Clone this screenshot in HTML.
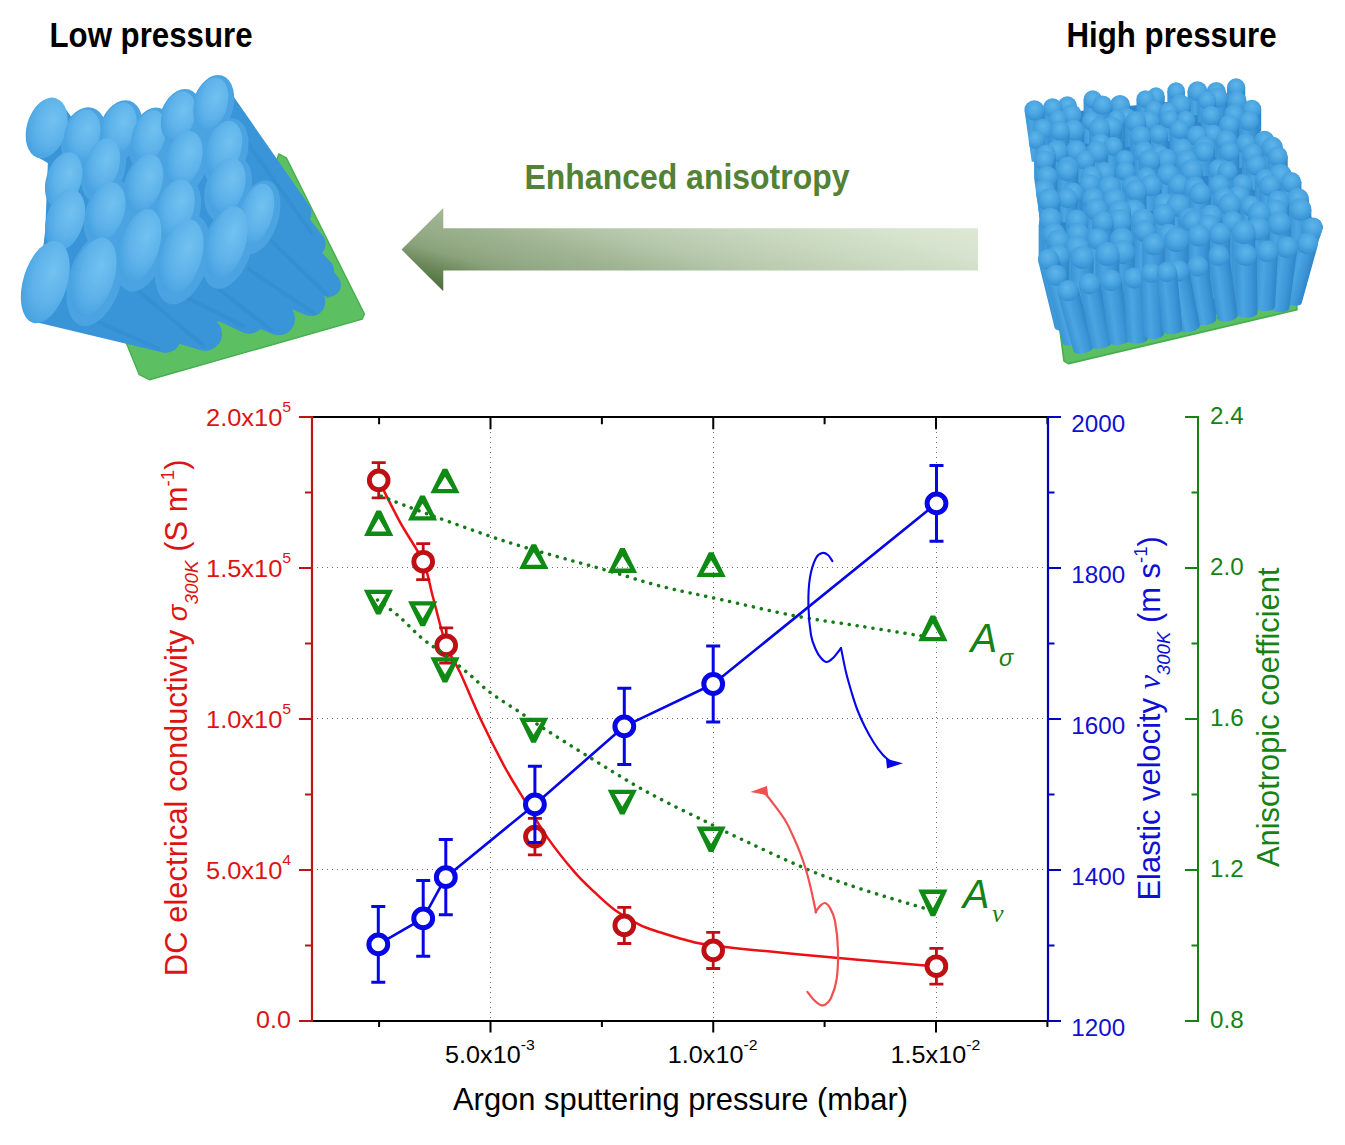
<!DOCTYPE html>
<html lang="en">
<head>
<meta charset="utf-8">
<title>Enhanced anisotropy - sputtering pressure</title>
<style>
html,body{margin:0;padding:0;background:#fff;}
body{width:1345px;height:1145px;overflow:hidden;}
svg{display:block;}
text{font-family:'Liberation Sans', sans-serif;}
</style>
</head>
<body>
<svg width="1345" height="1145" viewBox="0 0 1345 1145">
<defs>
<linearGradient id="ga" x1="0" y1="1" x2="1.2" y2="0.4"><stop offset="0" stop-color="#3e6129"/><stop offset="0.0467" stop-color="#4b6c37"/><stop offset="0.133" stop-color="#6c885b"/><stop offset="0.2" stop-color="#8aa27b"/><stop offset="0.267" stop-color="#96ac88"/><stop offset="0.333" stop-color="#9db290"/><stop offset="0.4" stop-color="#a8bc9c"/><stop offset="0.467" stop-color="#b4c6a9"/><stop offset="0.567" stop-color="#c0d0b6"/><stop offset="0.667" stop-color="#cad9c1"/><stop offset="0.8" stop-color="#d6e3ce"/><stop offset="0.933" stop-color="#dde9d5"/><stop offset="1" stop-color="#e0ebd8"/></linearGradient>
<radialGradient id="ge" cx="0.6" cy="0.35" r="0.75"><stop offset="0" stop-color="#72c2f0"/><stop offset="0.55" stop-color="#5db2ea"/><stop offset="0.85" stop-color="#4aa4e2"/><stop offset="1" stop-color="#3e99db"/></radialGradient>
<radialGradient id="gs" cx="0.5" cy="0.36" r="0.66"><stop offset="0" stop-color="#5fb5ea"/><stop offset="0.5" stop-color="#4ba5e1"/><stop offset="0.85" stop-color="#3a95d6"/><stop offset="1" stop-color="#2f88cb"/></radialGradient>
<linearGradient id="gc" x1="0" y1="0" x2="1" y2="0"><stop offset="0" stop-color="#3a93d4"/><stop offset="0.35" stop-color="#4aa5e2"/><stop offset="0.7" stop-color="#3d97d8"/><stop offset="1" stop-color="#2f86c8"/></linearGradient>
<linearGradient id="gbody" x1="0" y1="0" x2="1" y2="1"><stop offset="0" stop-color="#3f9bdc"/><stop offset="1" stop-color="#3590d2"/></linearGradient>
<filter id="soft" x="-10%" y="-10%" width="120%" height="120%"><feGaussianBlur stdDeviation="0.7"/></filter>
</defs>
<text x="49.5" y="46.6" font-weight="bold" font-size="34.4" fill="#000" textLength="203" lengthAdjust="spacingAndGlyphs">Low pressure</text>
<text x="1066.5" y="46.6" font-weight="bold" font-size="34.4" fill="#000" textLength="210" lengthAdjust="spacingAndGlyphs">High pressure</text>
<text x="524.5" y="189" font-weight="bold" font-size="35" fill="#548235" textLength="325" lengthAdjust="spacingAndGlyphs">Enhanced anisotropy</text>
<path d="M401.5 249.6L443.3 208V228.2H978V270.4H443.3V291.2Z" fill="url(#ga)"/>
<g id="lowp">
<path d="M278.72 153.94 L286.36 157.91 L364.46 314.1 L362.2 319.2 L149.41 379.75 L139.22 374.66 L121.68 331.65 L254.67 229.78 Z" fill="#5cc063" stroke="#46ae4e" stroke-width="1.3" stroke-linejoin="round"/>
<g fill="#3995d7">
<path d="M48.1 156.21 L210.81 91.13 L297.11 214.22 L329.65 284.96 L165.53 338.72 L36.79 303.35 L45.27 229.78 Z"/>
<path d="M26.4 132.5L27.1 127.4L28.3 122.3L30.1 117.4L32.4 112.8L35.2 108.6L38.3 105L41.6 102.2L45.1 100.1L48.7 98.9L52.2 98.5L55.5 99L58.6 100.5L61.3 102.7L63.5 105.7L104.8 164.9L106.8 168.8L107.5 173.2L106.8 177.6L104.8 181.5L101.7 184.6L97.8 186.6L93.4 187.3L89 186.6L85.1 184.6L34.8 155.4L32.1 153.1L29.9 150.1L28.1 146.4L26.9 142.2L26.4 137.5Z"/>
<path d="M64.2 138.6L64.8 134.3L65.8 130L67.3 125.9L69.3 122.1L71.7 118.6L74.3 115.7L77.3 113.3L80.3 111.6L83.4 110.6L86.5 110.3L89.4 110.8L92.2 112.1L94.6 114L96.6 116.6L158.6 198.8L160.6 202.8L161.3 207.1L160.6 211.5L158.6 215.5L155.5 218.6L151.5 220.6L147.1 221.3L142.8 220.6L138.8 218.6L69.6 156L67.5 153.4L65.9 150.3L64.8 146.7L64.3 142.8Z"/>
<path d="M101.5 131.6L102.1 127.4L103.1 123.1L104.6 119L106.6 115.1L108.9 111.7L111.5 108.7L114.4 106.3L117.4 104.6L120.4 103.6L123.4 103.3L126.2 103.8L128.9 105L131.2 106.9L192.5 187.5L194.6 191.5L195.2 195.8L194.6 200.2L192.5 204.1L189.4 207.3L185.5 209.3L181.1 210L176.7 209.3L172.8 207.3L106.5 149L104.6 146.4L103.1 143.3L102 139.7L101.5 135.8Z"/>
<path d="M131.5 145L131.6 140.6L132.2 136.2L133.3 131.7L134.9 127.4L136.9 123.4L139.2 119.8L141.8 116.6L144.7 114.1L147.6 112.3L150.6 111.1L153.5 110.8L156.3 111.2L158.8 112.4L161 114.3L226.5 204.5L228.5 208.4L229.2 212.8L228.5 217.2L226.5 221.1L223.4 224.2L219.4 226.3L215.1 226.9L210.7 226.3L206.7 224.2L136.1 158.5L134.3 155.9L132.9 152.7L131.9 149Z"/>
<path d="M161.4 120.5L162 116.2L163 111.9L164.6 107.8L166.5 104L168.8 100.5L171.4 97.5L174.1 95.1L177.1 93.4L180 92.3L182.9 92L185.7 92.4L188.2 93.6L190.4 95.5L265.7 185L267.6 188.8L268.3 193L267.6 197.2L265.7 201L262.7 204L258.9 205.9L254.7 206.6L250.5 205.9L246.7 204L168.4 139.6L166.1 137.7L164.3 135.2L162.8 132.1L161.9 128.5L161.4 124.6Z"/>
<path d="M193.8 112.4L193.9 108.1L194.5 103.7L195.6 99.2L197.2 94.9L199.1 90.9L201.5 87.2L204.1 84.1L206.9 81.6L209.9 79.7L212.8 78.6L215.8 78.2L218.5 78.7L221 79.9L223.3 81.8L309.1 205.2L310.9 208.8L311.5 212.8L310.9 216.8L309.1 220.5L306.2 223.3L302.6 225.2L298.5 225.8L294.5 225.2L290.9 223.3L288 220.5L198.4 125.9L196.5 123.4L195.1 120.2L194.2 116.5Z"/>
<path d="M45.5 189.3L45.6 184.7L46.2 180L47.4 175.3L49.1 170.7L51.2 166.4L53.7 162.6L56.5 159.2L59.5 156.6L62.6 154.6L65.8 153.4L68.9 153L71.9 153.5L74.6 154.8L76.9 156.8L166.8 246.6L169.9 249.8L171.9 253.7L172.6 258.1L171.9 262.4L169.9 266.4L166.8 269.5L162.8 271.5L158.5 272.2L154.1 271.5L150.1 269.5L52.8 205.8L50.4 203.7L48.4 201L46.9 197.6L45.9 193.7Z"/>
<path d="M84.1 175.3L84.3 170.7L84.9 166L86.1 161.3L87.8 156.7L89.9 152.4L92.3 148.6L95.1 145.2L98 142.5L101.1 140.5L104.2 139.3L107.2 138.9L110.1 139.3L112.7 140.6L114.9 142.6L203.9 232.8L205.9 236.7L206.6 241.1L205.9 245.5L203.9 249.4L200.7 252.5L196.8 254.6L192.4 255.2L188 254.6L184.1 252.5L91.1 191.6L88.8 189.6L86.9 186.9L85.5 183.5L84.5 179.6Z"/>
<path d="M126 192.7L126.1 187.9L126.8 183L128 178.1L129.8 173.4L131.9 168.9L134.5 164.9L137.3 161.4L140.4 158.6L143.5 156.5L146.7 155.2L149.9 154.8L152.8 155.3L155.5 156.6L157.9 158.6L246.3 255.4L248.3 259.4L249 263.7L248.3 268.1L246.3 272.1L243.2 275.2L239.2 277.2L234.9 277.9L230.5 277.2L226.5 275.2L133.1 209.6L130.8 207.5L128.8 204.7L127.3 201.2L126.4 197.2Z"/>
<path d="M165.7 168.1L165.8 163.5L166.5 158.8L167.7 154.1L169.3 149.5L171.4 145.2L173.9 141.3L176.7 138L179.7 135.3L182.9 133.4L186.1 132.2L189.2 131.8L192.1 132.3L194.8 133.5L197.2 135.6L282.6 233.1L284.6 236.9L285.2 241.1L284.6 245.3L282.6 249.1L279.6 252.1L275.8 254L271.6 254.7L267.4 254L263.7 252.1L173 184.5L170.7 182.5L168.7 179.7L167.2 176.3L166.2 172.4Z"/>
<path d="M205.4 158.2L205.5 153.6L206.1 148.9L207.3 144.2L208.9 139.6L211 135.3L213.5 131.4L216.3 128.1L219.4 125.4L222.5 123.5L225.7 122.3L228.8 121.9L231.7 122.4L234.4 123.6L236.8 125.7L323.2 236.3L325.1 239.9L325.7 243.9L325.1 247.9L323.2 251.6L320.3 254.5L316.7 256.3L312.7 256.9L308.7 256.3L305 254.5L210.3 172.6L208.3 169.8L206.8 166.4L205.8 162.5Z"/>
<path d="M45.6 230L45.7 225L46.5 219.8L47.8 214.6L49.6 209.6L51.9 204.8L54.6 200.6L57.6 196.9L60.8 194L64.2 191.8L67.6 190.4L70.9 190L74.1 190.5L76.9 191.8L79.5 194.1L178.1 289.1L181.2 292.2L183.2 296.1L183.9 300.5L183.2 304.9L181.2 308.8L178.1 312L174.2 314L169.8 314.7L165.4 314L161.5 312L53.2 247.9L50.7 245.7L48.6 242.7L47.1 239L46 234.7Z"/>
<path d="M87.3 220.9L87.4 216.1L88.1 211.2L89.3 206.3L91 201.5L93.2 197L95.8 193L98.7 189.6L101.8 186.8L105.1 184.7L108.4 183.5L111.6 183.1L114.6 183.6L117.4 184.9L119.9 187L217.7 277.8L220.8 280.9L222.9 284.8L223.5 289.2L222.9 293.6L220.8 297.5L217.7 300.6L213.8 302.7L209.4 303.4L205 302.7L201.1 300.6L94.8 237.9L92.4 235.8L90.3 232.9L88.8 229.4L87.8 225.3Z"/>
<path d="M156.6 218L156.7 213.2L157.4 208.3L158.6 203.4L160.4 198.7L162.6 194.2L165.1 190.2L168 186.7L171.2 183.9L174.4 181.9L177.7 180.7L180.9 180.3L183.9 180.7L186.7 182L189.2 184.2L282.6 278.4L284.6 282.2L285.2 286.4L284.6 290.6L282.6 294.4L279.6 297.4L275.8 299.3L271.6 300L267.4 299.3L263.7 297.4L164.1 235.1L161.7 232.9L159.7 230.1L158.1 226.6L157.1 222.5Z"/>
<path d="M207.7 194.9L207.8 190.3L208.4 185.5L209.6 180.8L211.3 176.2L213.4 171.9L215.9 168.1L218.8 164.8L221.8 162.1L225.1 160.2L228.3 159L231.5 158.7L234.6 159.1L237.4 160.4L239.8 162.5L331.7 263.2L333.5 266.8L334.2 270.8L333.5 274.8L331.7 278.5L328.8 281.3L325.2 283.2L321.2 283.8L317.1 283.2L313.5 281.3L215.4 211.4L212.9 209.3L210.9 206.5L209.3 203.1L208.2 199.2Z"/>
<path d="M238.4 224.9L238.7 219.9L239.5 214.7L240.9 209.6L242.7 204.5L244.9 199.8L247.4 195.5L250.2 191.8L253.2 188.7L256.3 186.4L259.3 185L262.3 184.5L265.1 184.8L267.6 186.1L269.7 188.2L338.7 278L340.4 281.3L341 285L340.4 288.6L338.7 291.9L336.1 294.6L332.8 296.3L329.1 296.8L325.4 296.3L322.1 294.6L244.6 242.4L242.4 240.2L240.7 237.3L239.4 233.7L238.6 229.5Z"/>
<path d="M21.5 296.4L21.9 289.7L23 282.8L24.8 275.9L27.2 269.1L30.2 262.8L33.6 257L37.3 252L41.3 247.9L45.5 244.9L49.6 243L53.6 242.3L57.3 242.8L60.7 244.4L174.7 324.7L178.1 328.2L180.3 332.5L181.1 337.3L180.3 342.1L178.1 346.5L174.7 349.9L170.3 352.1L165.5 352.9L160.7 352.1L33.2 321.5L29.9 319.8L27 317L24.6 313.1L22.9 308.3L21.9 302.6Z"/>
<path d="M70.9 290L71.2 283.6L72.3 277.1L74 270.5L76.2 264.1L79 258.1L82.3 252.7L85.8 248L89.6 244.1L93.5 241.2L97.4 239.4L101.2 238.7L104.8 239.2L108 240.8L215.1 320.2L218.9 323.9L221.3 328.7L222.1 333.9L221.3 339.2L218.9 343.9L215.1 347.6L210.4 350.1L205.1 350.9L199.9 350.1L82 313.7L78.8 312.1L76 309.5L73.8 305.8L72.2 301.2L71.2 295.9Z"/>
<path d="M119.3 257.9L119.7 252.1L120.7 246L122.2 239.9L124.3 234L126.9 228.4L129.9 223.3L133.2 218.9L136.7 215.3L140.3 212.6L143.9 210.9L147.4 210.3L150.7 210.7L153.6 212.2L258.3 305.2L261.8 308.8L264.1 313.2L264.9 318.1L264.1 323L261.8 327.4L258.3 330.9L253.9 333.1L249 333.9L244.1 333.1L129.5 280L126.5 278.5L124 276L122 272.6L120.5 268.4L119.6 263.4Z"/>
<path d="M159.3 269.5L159.6 263.4L160.6 257.2L162.2 250.9L164.4 244.8L167.1 239L170.2 233.8L173.6 229.3L177.3 225.6L181.1 222.9L184.9 221.1L188.6 220.5L192 221L195.1 222.5L288.4 305.6L292 309.3L294.3 313.8L295.1 318.9L294.3 324L292 328.6L288.4 332.2L283.8 334.5L278.7 335.3L273.6 334.5L170.2 292.4L167.1 290.8L164.4 288.2L162.2 284.7L160.6 280.3L159.6 275.2Z"/>
<path d="M205.6 255.1L206 249.2L207 243.2L208.5 237.1L210.6 231.1L213.2 225.5L216.2 220.5L219.5 216.1L223 212.5L226.6 209.8L230.2 208.1L233.7 207.4L237 207.9L239.9 209.3L242.4 211.8L322.7 293.6L324.7 297.6L325.4 301.9L324.7 306.3L322.7 310.3L319.6 313.4L315.6 315.4L311.3 316.1L306.9 315.4L215.8 277.2L212.8 275.7L210.3 273.2L208.3 269.8L206.8 265.5L205.9 260.6Z"/>
</g>
<g stroke-width="4" stroke-linecap="round" fill="none" opacity="0.33">
<line x1="84.89" y1="316.08" x2="158.46" y2="348.62" stroke="#2f88cc"/>
<line x1="132.99" y1="286.37" x2="203.74" y2="345.8" stroke="#2f88cc"/>
<line x1="181.1" y1="294.86" x2="243.35" y2="325.99" stroke="#2f88cc"/>
<line x1="215.05" y1="286.37" x2="271.65" y2="330.23" stroke="#2f88cc"/>
<line x1="249.01" y1="269.39" x2="314.09" y2="313.25" stroke="#2f88cc"/>
<line x1="271.65" y1="241.1" x2="328.24" y2="296.28" stroke="#2f88cc"/>
<line x1="249.01" y1="144.89" x2="311.26" y2="232.61" stroke="#2f88cc"/>
</g>
<g fill="#4ba4e1" filter="url(#soft)">
<ellipse cx="83.76" cy="137.82" rx="21.93" ry="31.24" transform="rotate(17 83.76 137.82)"/>
<ellipse cx="120.54" cy="130.74" rx="21.22" ry="31.24" transform="rotate(17 120.54 130.74)"/>
<ellipse cx="150.25" cy="139.23" rx="20.51" ry="32.6" transform="rotate(17 150.25 139.23)"/>
<ellipse cx="179.97" cy="119.42" rx="20.51" ry="31.24" transform="rotate(17 179.97 119.42)"/>
<ellipse cx="212.51" cy="106.69" rx="20.51" ry="32.6" transform="rotate(17 212.51 106.69)"/>
<ellipse cx="103.57" cy="168.94" rx="21.22" ry="34.63" transform="rotate(17 103.57 168.94)"/>
<ellipse cx="146.01" cy="185.92" rx="21.93" ry="35.99" transform="rotate(17 146.01 185.92)"/>
<ellipse cx="185.63" cy="161.87" rx="21.93" ry="34.63" transform="rotate(17 185.63 161.87)"/>
<ellipse cx="225.24" cy="151.96" rx="21.93" ry="34.63" transform="rotate(17 225.24 151.96)"/>
<ellipse cx="107.81" cy="214.22" rx="22.64" ry="35.99" transform="rotate(17 107.81 214.22)"/>
<ellipse cx="177.14" cy="211.39" rx="22.64" ry="35.99" transform="rotate(17 177.14 211.39)"/>
<ellipse cx="228.07" cy="188.75" rx="22.64" ry="34.63" transform="rotate(17 228.07 188.75)"/>
<ellipse cx="257.78" cy="217.05" rx="20.51" ry="38.03" transform="rotate(17 257.78 217.05)"/>
<ellipse cx="95.08" cy="279.3" rx="26.17" ry="48.22" transform="rotate(17 95.08 279.3)"/>
<ellipse cx="141.77" cy="248.17" rx="24.05" ry="44.82" transform="rotate(17 141.77 248.17)"/>
<ellipse cx="182.8" cy="259.49" rx="25.47" ry="46.18" transform="rotate(17 182.8 259.49)"/>
<ellipse cx="228.07" cy="245.34" rx="24.05" ry="44.82" transform="rotate(17 228.07 245.34)"/>
</g>
<g filter="url(#soft)">
<ellipse cx="46.69" cy="127.91" rx="19.81" ry="31.13" fill="url(#ge)" transform="rotate(17 46.69 127.91)"/>
<ellipse cx="82.06" cy="134.99" rx="17.54" ry="26.03" fill="url(#ge)" transform="rotate(17 82.06 134.99)"/>
<ellipse cx="118.85" cy="127.91" rx="16.98" ry="26.03" fill="url(#ge)" transform="rotate(17 118.85 127.91)"/>
<ellipse cx="148.56" cy="136.4" rx="16.41" ry="27.16" fill="url(#ge)" transform="rotate(17 148.56 136.4)"/>
<ellipse cx="178.27" cy="116.59" rx="16.41" ry="26.03" fill="url(#ge)" transform="rotate(17 178.27 116.59)"/>
<ellipse cx="210.81" cy="103.86" rx="16.41" ry="27.16" fill="url(#ge)" transform="rotate(17 210.81 103.86)"/>
<ellipse cx="63.67" cy="180.26" rx="17.54" ry="28.86" fill="url(#ge)" transform="rotate(17 63.67 180.26)"/>
<ellipse cx="101.87" cy="166.11" rx="16.98" ry="28.86" fill="url(#ge)" transform="rotate(17 101.87 166.11)"/>
<ellipse cx="144.31" cy="183.09" rx="17.54" ry="29.99" fill="url(#ge)" transform="rotate(17 144.31 183.09)"/>
<ellipse cx="183.93" cy="159.04" rx="17.54" ry="28.86" fill="url(#ge)" transform="rotate(17 183.93 159.04)"/>
<ellipse cx="223.54" cy="149.13" rx="17.54" ry="28.86" fill="url(#ge)" transform="rotate(17 223.54 149.13)"/>
<ellipse cx="65.08" cy="219.88" rx="18.68" ry="31.69" fill="url(#ge)" transform="rotate(17 65.08 219.88)"/>
<ellipse cx="106.11" cy="211.39" rx="18.11" ry="29.99" fill="url(#ge)" transform="rotate(17 106.11 211.39)"/>
<ellipse cx="175.44" cy="208.56" rx="18.11" ry="29.99" fill="url(#ge)" transform="rotate(17 175.44 208.56)"/>
<ellipse cx="226.37" cy="185.92" rx="18.11" ry="28.86" fill="url(#ge)" transform="rotate(17 226.37 185.92)"/>
<ellipse cx="256.08" cy="214.22" rx="16.41" ry="31.69" fill="url(#ge)" transform="rotate(17 256.08 214.22)"/>
<ellipse cx="45.27" cy="282.13" rx="22.07" ry="42.44" fill="url(#ge)" transform="rotate(17 45.27 282.13)"/>
<ellipse cx="93.38" cy="276.47" rx="20.94" ry="40.18" fill="url(#ge)" transform="rotate(17 93.38 276.47)"/>
<ellipse cx="140.07" cy="245.34" rx="19.24" ry="37.35" fill="url(#ge)" transform="rotate(17 140.07 245.34)"/>
<ellipse cx="181.1" cy="256.66" rx="20.37" ry="38.48" fill="url(#ge)" transform="rotate(17 181.1 256.66)"/>
<ellipse cx="226.37" cy="242.51" rx="19.24" ry="37.35" fill="url(#ge)" transform="rotate(17 226.37 242.51)"/>
</g>
</g>
<g id="highp">
<path d="M1057.6 313 L1296 297.5 L1297 309.8 L1068.5 363.6 L1064 361 Z" fill="#5cc063" stroke="#46ae4e" stroke-width="1.6" stroke-linejoin="round"/>
<path d="M1031.17 116.04 L1237.9 94.87 L1318.84 229.36 L1293.94 299.1 L1085 340 L1042 250 Z" fill="#2f86ca"/>
<clipPath id="cpR"><path d="M1023.7 69.96 L1249.1 69.96 L1323.33 226.38 L1296.43 310.31 L1184.35 324.01 L1063.55 324.01 L1033.91 249.29 L1039.89 219.4 L1023.7 104.83 Z"/></clipPath>
<g clip-path="url(#cpR)">
<rect x="1226.97" y="87.43" width="18.27" height="21.92" fill="url(#gc)"/>
<circle cx="1236.1" cy="87.43" r="9.13" fill="url(#gs)"/>
<rect x="1167.35" y="91.04" width="17.52" height="21.03" fill="url(#gc)"/>
<circle cx="1176.11" cy="91.04" r="8.76" fill="url(#gs)"/>
<rect x="1187.52" y="91.23" width="19.95" height="23.94" fill="url(#gc)"/>
<circle cx="1197.5" cy="91.23" r="9.98" fill="url(#gs)"/>
<rect x="1206.81" y="91.43" width="18.93" height="22.71" fill="url(#gc)"/>
<circle cx="1216.27" cy="91.43" r="9.46" fill="url(#gs)"/>
<rect x="1147.1" y="96.18" width="17.61" height="21.14" fill="url(#gc)"/>
<circle cx="1155.91" cy="96.18" r="8.81" fill="url(#gs)"/>
<rect x="1207.45" y="97.48" width="20.18" height="24.21" fill="url(#gc)"/>
<circle cx="1217.54" cy="97.48" r="10.09" fill="url(#gs)"/>
<rect x="1136.48" y="99.12" width="17.91" height="21.49" fill="url(#gc)"/>
<circle cx="1145.43" cy="99.12" r="8.95" fill="url(#gs)"/>
<rect x="1083.58" y="99.39" width="18.34" height="22.01" fill="url(#gc)"/>
<circle cx="1092.75" cy="99.39" r="9.17" fill="url(#gs)"/>
<rect x="1197.59" y="100.22" width="18.53" height="22.24" fill="url(#gc)"/>
<circle cx="1206.86" cy="100.22" r="9.27" fill="url(#gs)"/>
<rect x="1227.42" y="100.84" width="19.13" height="22.96" fill="url(#gc)"/>
<circle cx="1236.99" cy="100.84" r="9.57" fill="url(#gs)"/>
<rect x="1169.97" y="104.69" width="20.68" height="24.81" fill="url(#gc)"/>
<circle cx="1180.31" cy="104.69" r="10.34" fill="url(#gs)"/>
<rect x="1109.84" y="105.13" width="20.32" height="24.38" fill="url(#gc)"/>
<circle cx="1120" cy="105.13" r="10.16" fill="url(#gs)"/>
<rect x="1092.71" y="105.24" width="19.51" height="23.41" fill="url(#gc)"/>
<circle cx="1102.47" cy="105.24" r="9.75" fill="url(#gs)"/>
<rect x="1057.71" y="105.96" width="19.32" height="23.18" fill="url(#gc)"/>
<circle cx="1067.36" cy="105.96" r="9.66" fill="url(#gs)"/>
<rect x="1043.01" y="107.91" width="19.19" height="23.03" fill="url(#gc)"/>
<circle cx="1052.61" cy="107.91" r="9.6" fill="url(#gs)"/>
<rect x="1242.59" y="109.01" width="18.62" height="22.34" fill="url(#gc)"/>
<circle cx="1251.9" cy="109.01" r="9.31" fill="url(#gs)"/>
<rect x="1144.92" y="109.62" width="18.02" height="21.62" fill="url(#gc)"/>
<circle cx="1153.92" cy="109.62" r="9.01" fill="url(#gs)"/>
<rect x="1024.24" y="110.47" width="20.2" height="24.24" fill="url(#gc)"/>
<circle cx="1034.34" cy="110.47" r="10.1" fill="url(#gs)"/>
<rect x="1158.96" y="111.68" width="18.6" height="22.32" fill="url(#gc)"/>
<circle cx="1168.26" cy="111.68" r="9.3" fill="url(#gs)"/>
<rect x="1061.49" y="114.47" width="20.09" height="24.1" fill="url(#gc)"/>
<circle cx="1071.53" cy="114.47" r="10.04" fill="url(#gs)"/>
<rect x="1224.12" y="114.53" width="19.88" height="23.85" fill="url(#gc)"/>
<circle cx="1234.06" cy="114.53" r="9.94" fill="url(#gs)"/>
<rect x="1201.07" y="115.53" width="19.51" height="23.42" fill="url(#gc)"/>
<circle cx="1210.83" cy="115.53" r="9.76" fill="url(#gs)"/>
<rect x="1116.58" y="117.35" width="19.2" height="23.04" fill="url(#gc)"/>
<circle cx="1126.18" cy="117.35" r="9.6" fill="url(#gs)"/>
<rect x="1107.69" y="118.77" width="17.8" height="21.36" fill="url(#gc)"/>
<circle cx="1116.59" cy="118.77" r="8.9" fill="url(#gs)"/>
<rect x="1160.49" y="119.16" width="18.38" height="22.05" fill="url(#gc)"/>
<circle cx="1169.68" cy="119.16" r="9.19" fill="url(#gs)"/>
<rect x="1048.76" y="119.26" width="18.48" height="22.18" fill="url(#gc)"/>
<circle cx="1058.01" cy="119.26" r="9.24" fill="url(#gs)"/>
<rect x="1176.33" y="120.07" width="18.89" height="22.66" fill="url(#gc)"/>
<circle cx="1185.77" cy="120.07" r="9.44" fill="url(#gs)"/>
<rect x="1081.92" y="120.87" width="18.95" height="22.74" fill="url(#gc)"/>
<circle cx="1091.39" cy="120.87" r="9.48" fill="url(#gs)"/>
<rect x="1139.11" y="120.97" width="20.47" height="24.56" fill="url(#gc)"/>
<circle cx="1149.34" cy="120.97" r="10.23" fill="url(#gs)"/>
<rect x="1239.13" y="121.23" width="19.62" height="23.55" fill="url(#gc)"/>
<circle cx="1248.94" cy="121.23" r="9.81" fill="url(#gs)"/>
<rect x="1124.96" y="121.47" width="21.12" height="25.34" fill="url(#gc)"/>
<circle cx="1135.52" cy="121.47" r="10.56" fill="url(#gs)"/>
<rect x="1219.12" y="124.59" width="19.85" height="23.82" fill="url(#gc)"/>
<circle cx="1229.05" cy="124.59" r="9.93" fill="url(#gs)"/>
<rect x="1101.06" y="126.92" width="20.71" height="24.86" fill="url(#gc)"/>
<circle cx="1111.41" cy="126.92" r="10.36" fill="url(#gs)"/>
<rect x="1089.15" y="128.16" width="20.8" height="24.96" fill="url(#gc)"/>
<circle cx="1099.55" cy="128.16" r="10.4" fill="url(#gs)"/>
<rect x="1032.79" y="128.83" width="20.31" height="24.37" fill="url(#gc)"/>
<circle cx="1042.94" cy="128.83" r="10.15" fill="url(#gs)"/>
<rect x="1169.76" y="129.43" width="19.2" height="23.04" fill="url(#gc)"/>
<circle cx="1179.36" cy="129.43" r="9.6" fill="url(#gs)"/>
<rect x="1063.01" y="130.01" width="21.06" height="25.27" fill="url(#gc)"/>
<circle cx="1073.54" cy="130.01" r="10.53" fill="url(#gs)"/>
<rect x="1050.03" y="130.55" width="19.42" height="23.3" fill="url(#gc)"/>
<circle cx="1059.74" cy="130.55" r="9.71" fill="url(#gs)"/>
<rect x="1203.27" y="134.04" width="19.13" height="22.96" fill="url(#gc)"/>
<circle cx="1212.84" cy="134.04" r="9.57" fill="url(#gs)"/>
<rect x="1148.99" y="134.24" width="19.05" height="22.85" fill="url(#gc)"/>
<circle cx="1158.51" cy="134.24" r="9.52" fill="url(#gs)"/>
<rect x="1186.63" y="135.68" width="20.36" height="24.43" fill="url(#gc)"/>
<circle cx="1196.81" cy="135.68" r="10.18" fill="url(#gs)"/>
<rect x="1129.95" y="136.18" width="20.98" height="25.18" fill="url(#gc)"/>
<circle cx="1140.44" cy="136.18" r="10.49" fill="url(#gs)"/>
<rect x="1026.1" y="139.53" width="18.55" height="22.26" fill="url(#gc)"/>
<circle cx="1035.37" cy="139.53" r="9.28" fill="url(#gs)"/>
<rect x="1215.8" y="140.37" width="20.93" height="25.12" fill="url(#gc)"/>
<circle cx="1226.27" cy="140.37" r="10.47" fill="url(#gs)"/>
<rect x="1254.05" y="141.06" width="20.6" height="24.71" fill="url(#gc)"/>
<circle cx="1264.35" cy="141.06" r="10.3" fill="url(#gs)"/>
<rect x="1091.08" y="142.68" width="18.83" height="22.6" fill="url(#gc)"/>
<circle cx="1100.5" cy="142.68" r="9.42" fill="url(#gs)"/>
<rect x="1235.82" y="143.6" width="20.13" height="24.16" fill="url(#gc)"/>
<circle cx="1245.88" cy="143.6" r="10.07" fill="url(#gs)"/>
<rect x="1103.49" y="146.26" width="19.23" height="23.08" fill="url(#gc)"/>
<circle cx="1113.11" cy="146.26" r="9.62" fill="url(#gs)"/>
<rect x="1193.73" y="146.69" width="21.25" height="25.51" fill="url(#gc)"/>
<circle cx="1204.36" cy="146.69" r="10.63" fill="url(#gs)"/>
<rect x="1261.62" y="147.47" width="21.24" height="25.48" fill="url(#gc)"/>
<circle cx="1272.24" cy="147.47" r="10.62" fill="url(#gs)"/>
<rect x="1171.5" y="149.52" width="21.57" height="25.89" fill="url(#gc)"/>
<circle cx="1182.29" cy="149.52" r="10.79" fill="url(#gs)"/>
<rect x="1065.68" y="150.81" width="21.16" height="25.39" fill="url(#gc)"/>
<circle cx="1076.26" cy="150.81" r="10.58" fill="url(#gs)"/>
<rect x="1046.15" y="150.85" width="21.33" height="25.6" fill="url(#gc)"/>
<circle cx="1056.81" cy="150.85" r="10.67" fill="url(#gs)"/>
<rect x="1219.4" y="151.27" width="19.75" height="23.7" fill="url(#gc)"/>
<circle cx="1229.28" cy="151.27" r="9.88" fill="url(#gs)"/>
<rect x="1086.23" y="151.49" width="21.6" height="25.93" fill="url(#gc)"/>
<circle cx="1097.04" cy="151.49" r="10.8" fill="url(#gs)"/>
<rect x="1133.26" y="151.65" width="21.07" height="25.28" fill="url(#gc)"/>
<circle cx="1143.79" cy="151.65" r="10.53" fill="url(#gs)"/>
<rect x="1193.96" y="151.75" width="20.15" height="24.17" fill="url(#gc)"/>
<circle cx="1204.03" cy="151.75" r="10.07" fill="url(#gs)"/>
<rect x="1241.92" y="153.7" width="20.57" height="24.68" fill="url(#gc)"/>
<circle cx="1252.2" cy="153.7" r="10.28" fill="url(#gs)"/>
<rect x="1036.41" y="154.05" width="19.27" height="23.12" fill="url(#gc)"/>
<circle cx="1046.04" cy="154.05" r="9.63" fill="url(#gs)"/>
<rect x="1150.23" y="154.86" width="19.11" height="22.93" fill="url(#gc)"/>
<circle cx="1159.79" cy="154.86" r="9.55" fill="url(#gs)"/>
<rect x="1267.71" y="156.39" width="20.01" height="24.02" fill="url(#gc)"/>
<circle cx="1277.72" cy="156.39" r="10.01" fill="url(#gs)"/>
<rect x="1155.65" y="159.31" width="21.33" height="25.6" fill="url(#gc)"/>
<circle cx="1166.31" cy="159.31" r="10.67" fill="url(#gs)"/>
<rect x="1115.31" y="159.38" width="18.95" height="22.74" fill="url(#gc)"/>
<circle cx="1124.78" cy="159.38" r="9.47" fill="url(#gs)"/>
<rect x="1138.81" y="159.69" width="21.04" height="25.25" fill="url(#gc)"/>
<circle cx="1149.33" cy="159.69" r="10.52" fill="url(#gs)"/>
<rect x="1034.12" y="160.12" width="19.97" height="23.96" fill="url(#gc)"/>
<circle cx="1044.1" cy="160.12" r="9.98" fill="url(#gs)"/>
<rect x="1075.44" y="160.16" width="19.3" height="23.16" fill="url(#gc)"/>
<circle cx="1085.1" cy="160.16" r="9.65" fill="url(#gs)"/>
<rect x="1175.71" y="160.94" width="22" height="26.4" fill="url(#gc)"/>
<circle cx="1186.71" cy="160.94" r="11" fill="url(#gs)"/>
<rect x="1245.84" y="165.13" width="20.53" height="24.64" fill="url(#gc)"/>
<circle cx="1256.11" cy="165.13" r="10.27" fill="url(#gs)"/>
<rect x="1057.27" y="166.96" width="20.85" height="25.02" fill="url(#gc)"/>
<circle cx="1067.7" cy="166.96" r="10.42" fill="url(#gs)"/>
<rect x="1208.22" y="169.23" width="19.83" height="23.8" fill="url(#gc)"/>
<circle cx="1218.14" cy="169.23" r="9.92" fill="url(#gs)"/>
<rect x="1180.62" y="170.43" width="22.12" height="26.54" fill="url(#gc)"/>
<circle cx="1191.68" cy="170.43" r="11.06" fill="url(#gs)"/>
<rect x="1056.25" y="170.56" width="21.16" height="25.39" fill="url(#gc)"/>
<circle cx="1066.83" cy="170.56" r="10.58" fill="url(#gs)"/>
<rect x="1115.68" y="171.13" width="19.5" height="23.4" fill="url(#gc)"/>
<circle cx="1125.42" cy="171.13" r="9.75" fill="url(#gs)"/>
<rect x="1217.53" y="171.14" width="19.73" height="23.68" fill="url(#gc)"/>
<circle cx="1227.39" cy="171.14" r="9.87" fill="url(#gs)"/>
<rect x="1094.11" y="172.58" width="20.98" height="25.18" fill="url(#gc)"/>
<circle cx="1104.6" cy="172.58" r="10.49" fill="url(#gs)"/>
<rect x="1156.97" y="174.2" width="21.48" height="25.77" fill="url(#gc)"/>
<circle cx="1167.71" cy="174.2" r="10.74" fill="url(#gs)"/>
<rect x="1269.02" y="175.33" width="22.69" height="27.23" fill="url(#gc)"/>
<circle cx="1280.36" cy="175.33" r="11.35" fill="url(#gs)"/>
<rect x="1036.32" y="176.45" width="20.99" height="25.19" fill="url(#gc)"/>
<circle cx="1046.82" cy="176.45" r="10.49" fill="url(#gs)"/>
<rect x="1080.91" y="176.74" width="21.42" height="25.71" fill="url(#gc)"/>
<circle cx="1091.63" cy="176.74" r="10.71" fill="url(#gs)"/>
<rect x="1136.34" y="177.3" width="20.43" height="24.52" fill="url(#gc)"/>
<circle cx="1146.55" cy="177.3" r="10.22" fill="url(#gs)"/>
<rect x="1254.87" y="179.21" width="20.36" height="24.43" fill="url(#gc)"/>
<circle cx="1265.05" cy="179.21" r="10.18" fill="url(#gs)"/>
<rect x="1280.65" y="182.31" width="20.78" height="24.93" fill="url(#gc)"/>
<circle cx="1291.04" cy="182.31" r="10.39" fill="url(#gs)"/>
<rect x="1079.63" y="183.92" width="20.02" height="24.02" fill="url(#gc)"/>
<circle cx="1089.64" cy="183.92" r="10.01" fill="url(#gs)"/>
<rect x="1232.21" y="184.04" width="20.23" height="24.28" fill="url(#gc)"/>
<circle cx="1242.33" cy="184.04" r="10.12" fill="url(#gs)"/>
<rect x="1167.89" y="184.51" width="20.78" height="24.94" fill="url(#gc)"/>
<circle cx="1178.28" cy="184.51" r="10.39" fill="url(#gs)"/>
<rect x="1208.59" y="185.21" width="21.15" height="25.38" fill="url(#gc)"/>
<circle cx="1219.17" cy="185.21" r="10.57" fill="url(#gs)"/>
<rect x="1122.2" y="185.47" width="20.44" height="24.52" fill="url(#gc)"/>
<circle cx="1132.41" cy="185.47" r="10.22" fill="url(#gs)"/>
<rect x="1140.15" y="185.48" width="21.38" height="25.66" fill="url(#gc)"/>
<circle cx="1150.84" cy="185.48" r="10.69" fill="url(#gs)"/>
<rect x="1259.06" y="185.6" width="21.33" height="25.6" fill="url(#gc)"/>
<circle cx="1269.72" cy="185.6" r="10.67" fill="url(#gs)"/>
<rect x="1098.15" y="186.93" width="22.14" height="26.57" fill="url(#gc)"/>
<circle cx="1109.23" cy="186.93" r="11.07" fill="url(#gs)"/>
<rect x="1184.15" y="187.38" width="21.53" height="25.83" fill="url(#gc)"/>
<circle cx="1194.92" cy="187.38" r="10.76" fill="url(#gs)"/>
<rect x="1125.15" y="190.36" width="21.39" height="25.67" fill="url(#gc)"/>
<circle cx="1135.85" cy="190.36" r="10.7" fill="url(#gs)"/>
<rect x="1032.79" y="190.57" width="22.02" height="26.42" fill="url(#gc)"/>
<circle cx="1043.8" cy="190.57" r="11.01" fill="url(#gs)"/>
<rect x="1062.6" y="192.8" width="20.76" height="24.91" fill="url(#gc)"/>
<circle cx="1072.98" cy="192.8" r="10.38" fill="url(#gs)"/>
<rect x="1189.13" y="193.41" width="21.65" height="25.98" fill="url(#gc)"/>
<circle cx="1199.96" cy="193.41" r="10.83" fill="url(#gs)"/>
<rect x="1228.78" y="195.5" width="20.52" height="24.63" fill="url(#gc)"/>
<circle cx="1239.04" cy="195.5" r="10.26" fill="url(#gs)"/>
<rect x="1212.93" y="197.99" width="21.79" height="26.15" fill="url(#gc)"/>
<circle cx="1223.83" cy="197.99" r="10.89" fill="url(#gs)"/>
<rect x="1057.33" y="198.16" width="20.11" height="24.13" fill="url(#gc)"/>
<circle cx="1067.39" cy="198.16" r="10.06" fill="url(#gs)"/>
<rect x="1082.18" y="198.7" width="21.85" height="26.22" fill="url(#gc)"/>
<circle cx="1093.11" cy="198.7" r="10.93" fill="url(#gs)"/>
<rect x="1286.79" y="199.24" width="22.16" height="26.6" fill="url(#gc)"/>
<circle cx="1297.87" cy="199.24" r="11.08" fill="url(#gs)"/>
<rect x="1037.72" y="199.7" width="22.45" height="26.94" fill="url(#gc)"/>
<circle cx="1048.95" cy="199.7" r="11.23" fill="url(#gs)"/>
<rect x="1103.04" y="199.84" width="22.84" height="27.4" fill="url(#gc)"/>
<circle cx="1114.46" cy="199.84" r="11.42" fill="url(#gs)"/>
<rect x="1267.07" y="201.77" width="21.89" height="26.27" fill="url(#gc)"/>
<circle cx="1278.01" cy="201.77" r="10.95" fill="url(#gs)"/>
<rect x="1153.21" y="204.25" width="22.7" height="27.24" fill="url(#gc)"/>
<circle cx="1164.56" cy="204.25" r="11.35" fill="url(#gs)"/>
<rect x="1218.38" y="204.42" width="22.3" height="26.76" fill="url(#gc)"/>
<circle cx="1229.52" cy="204.42" r="11.15" fill="url(#gs)"/>
<rect x="1166.72" y="205.4" width="22.89" height="27.47" fill="url(#gc)"/>
<circle cx="1178.16" cy="205.4" r="11.45" fill="url(#gs)"/>
<rect x="1240.17" y="205.8" width="20.78" height="24.93" fill="url(#gc)"/>
<circle cx="1250.56" cy="205.8" r="10.39" fill="url(#gs)"/>
<rect x="1085.05" y="209.4" width="22.49" height="26.99" fill="url(#gc)"/>
<circle cx="1096.29" cy="209.4" r="11.25" fill="url(#gs)"/>
<rect x="1289.05" y="209.48" width="22.29" height="66.88" fill="url(#gc)"/>
<circle cx="1300.2" cy="209.48" r="11.15" fill="url(#gs)"/>
<rect x="1264.36" y="210.7" width="22.64" height="67.93" fill="url(#gc)"/>
<circle cx="1275.68" cy="210.7" r="11.32" fill="url(#gs)"/>
<rect x="1122.34" y="211.16" width="23.26" height="69.79" fill="url(#gc)"/>
<circle cx="1133.97" cy="211.16" r="11.63" fill="url(#gs)"/>
<rect x="1108.51" y="211.26" width="22.48" height="67.43" fill="url(#gc)"/>
<circle cx="1119.75" cy="211.26" r="11.24" fill="url(#gs)"/>
<rect x="1247.84" y="213.04" width="22.58" height="67.75" fill="url(#gc)"/>
<circle cx="1259.13" cy="213.04" r="11.29" fill="url(#gs)"/>
<rect x="1152.83" y="214.78" width="21.83" height="65.5" fill="url(#gc)"/>
<circle cx="1163.74" cy="214.78" r="10.92" fill="url(#gs)"/>
<rect x="1199.84" y="215.88" width="22.26" height="66.79" fill="url(#gc)"/>
<circle cx="1210.97" cy="215.88" r="11.13" fill="url(#gs)"/>
<rect x="1178.37" y="218.18" width="21.32" height="63.95" fill="url(#gc)"/>
<circle cx="1189.03" cy="218.18" r="10.66" fill="url(#gs)"/>
<rect x="1038.62" y="219.25" width="22.96" height="68.88" fill="url(#gc)"/>
<circle cx="1050.1" cy="219.25" r="11.48" fill="url(#gs)"/>
<rect x="1131.2" y="220.14" width="23.22" height="69.65" fill="url(#gc)"/>
<circle cx="1142.81" cy="220.14" r="11.61" fill="url(#gs)"/>
<rect x="1065.72" y="220.43" width="21.72" height="65.16" fill="url(#gc)"/>
<circle cx="1076.58" cy="220.43" r="10.86" fill="url(#gs)"/>
<rect x="1108.16" y="220.64" width="22.87" height="68.62" fill="url(#gc)"/>
<circle cx="1119.6" cy="220.64" r="11.44" fill="url(#gs)"/>
<rect x="1182.01" y="221.44" width="21.64" height="64.91" fill="url(#gc)"/>
<circle cx="1192.83" cy="221.44" r="10.82" fill="url(#gs)"/>
<rect x="1092.09" y="221.45" width="21.36" height="64.07" fill="url(#gc)"/>
<circle cx="1102.77" cy="221.45" r="10.68" fill="url(#gs)"/>
<rect x="1221.66" y="221.65" width="21.37" height="64.11" fill="url(#gc)"/>
<circle cx="1232.35" cy="221.65" r="10.69" fill="url(#gs)"/>
<rect x="1267.43" y="223.14" width="23.46" height="70.38" fill="url(#gc)"/>
<circle cx="1279.16" cy="223.14" r="11.73" fill="url(#gs)"/>
<rect x="1197.51" y="225.56" width="22.02" height="66.06" fill="url(#gc)"/>
<circle cx="1208.52" cy="225.56" r="11.01" fill="url(#gs)"/>
<rect x="1301.67" y="228.27" width="21.76" height="65.29" fill="url(#gc)"/>
<circle cx="1312.55" cy="228.27" r="10.88" fill="url(#gs)"/>
<rect x="1246.01" y="228.64" width="23.47" height="70.4" fill="url(#gc)"/>
<circle cx="1257.74" cy="228.64" r="11.73" fill="url(#gs)"/>
<rect x="1133.81" y="231" width="21.63" height="64.89" fill="url(#gc)"/>
<circle cx="1144.63" cy="231" r="10.81" fill="url(#gs)"/>
<rect x="1231.58" y="232.13" width="23.78" height="71.34" fill="url(#gc)"/>
<circle cx="1243.47" cy="232.13" r="11.89" fill="url(#gs)"/>
<rect x="1208.65" y="233.64" width="21.71" height="65.13" fill="url(#gc)"/>
<circle cx="1219.5" cy="233.64" r="10.85" fill="url(#gs)"/>
<rect x="1066.71" y="233.92" width="22.17" height="66.5" fill="url(#gc)"/>
<circle cx="1077.79" cy="233.92" r="11.08" fill="url(#gs)"/>
<rect x="1157.89" y="234.5" width="21.44" height="64.33" fill="url(#gc)"/>
<circle cx="1168.61" cy="234.5" r="10.72" fill="url(#gs)"/>
<rect x="1042.25" y="234.53" width="23.21" height="69.62" fill="url(#gc)"/>
<circle cx="1053.85" cy="234.53" r="11.6" fill="url(#gs)"/>
<rect x="1187.65" y="235.54" width="22.14" height="66.41" fill="url(#gc)"/>
<circle cx="1198.72" cy="235.54" r="11.07" fill="url(#gs)"/>
<rect x="1086.84" y="239.04" width="21.44" height="64.31" fill="url(#gc)"/>
<circle cx="1097.56" cy="239.04" r="10.72" fill="url(#gs)"/>
<rect x="1109.95" y="239.63" width="23.75" height="71.25" fill="url(#gc)"/>
<circle cx="1121.82" cy="239.63" r="11.87" fill="url(#gs)"/>
<rect x="1164.22" y="239.75" width="24.4" height="73.21" fill="url(#gc)"/>
<circle cx="1176.43" cy="239.75" r="12.2" fill="url(#gs)"/>
<rect x="1046.69" y="240.91" width="22.67" height="68" fill="url(#gc)"/>
<circle cx="1058.02" cy="240.91" r="11.33" fill="url(#gs)"/>
<rect x="1142.3" y="244.1" width="22.36" height="67.08" fill="url(#gc)"/>
<circle cx="1153.48" cy="244.1" r="11.18" fill="url(#gs)"/>
<rect x="1065.09" y="247.51" width="23.82" height="71.45" fill="url(#gc)"/>
<circle cx="1077" cy="247.51" r="11.91" fill="url(#gs)"/>
<rect x="1110.83" y="252.04" width="23.84" height="71.53" fill="url(#gc)"/>
<circle cx="1122.76" cy="252.04" r="11.92" fill="url(#gs)"/>
<rect x="1095.45" y="253.91" width="23.98" height="71.94" fill="url(#gc)"/>
<circle cx="1107.44" cy="253.91" r="11.99" fill="url(#gs)"/>
<rect x="1047.16" y="255.52" width="22.03" height="66.09" fill="url(#gc)"/>
<circle cx="1058.17" cy="255.52" r="11.02" fill="url(#gs)"/>
<rect x="1070.6" y="257.49" width="23" height="69.01" fill="url(#gc)"/>
<circle cx="1082.1" cy="257.49" r="11.5" fill="url(#gs)"/>
</g>
<g transform="translate(1046 249) rotate(-13.87)">
<path d="M-10.5 10.5V78.71A10.5 4.73 0 0 0 10.5 78.71V10.5Z" fill="url(#gc)"/>
<circle cx="0" cy="10.5" r="10.5" fill="url(#gs)"/>
</g>
<g transform="translate(1310 233) rotate(15.52)">
<path d="M-10.8 10.8V69.87A10.8 4.86 0 0 0 10.8 69.87V10.8Z" fill="url(#gc)"/>
<circle cx="0" cy="10.8" r="10.8" fill="url(#gs)"/>
</g>
<g transform="translate(1053.5 265) rotate(-14.37)">
<path d="M-10.5 10.5V77.86A10.5 4.73 0 0 0 10.5 77.86V10.5Z" fill="url(#gc)"/>
<circle cx="0" cy="10.5" r="10.5" fill="url(#gs)"/>
</g>
<g transform="translate(1288 236.5) rotate(7.54)">
<path d="M-10.8 10.8V71.3A10.8 4.86 0 0 0 10.8 71.3V10.8Z" fill="url(#gc)"/>
<circle cx="0" cy="10.8" r="10.8" fill="url(#gs)"/>
</g>
<g transform="translate(1065.1 280.4) rotate(-15.33)">
<path d="M-10.6 10.6V70.51A10.6 4.77 0 0 0 10.6 70.51V10.6Z" fill="url(#gc)"/>
<circle cx="0" cy="10.6" r="10.6" fill="url(#gs)"/>
</g>
<g transform="translate(1267.7 240.5) rotate(3)">
<path d="M-10.8 10.8V65.74A10.8 4.86 0 0 0 10.8 65.74V10.8Z" fill="url(#gc)"/>
<circle cx="0" cy="10.8" r="10.8" fill="url(#gs)"/>
</g>
<g transform="translate(1087.4 273.3) rotate(-11.46)">
<path d="M-10.6 10.6V71.75A10.6 4.77 0 0 0 10.6 71.75V10.6Z" fill="url(#gc)"/>
<circle cx="0" cy="10.6" r="10.6" fill="url(#gs)"/>
</g>
<g transform="translate(1245.5 244) rotate(-0.85)">
<path d="M-11 11V68.86A11 4.95 0 0 0 11 68.86V11Z" fill="url(#gc)"/>
<circle cx="0" cy="11" r="11" fill="url(#gs)"/>
</g>
<g transform="translate(1109.6 269.8) rotate(-8.04)">
<path d="M-10.6 10.6V70.98A10.6 4.77 0 0 0 10.6 70.98V10.6Z" fill="url(#gc)"/>
<circle cx="0" cy="10.6" r="10.6" fill="url(#gs)"/>
</g>
<g transform="translate(1217.4 245.2) rotate(-7.86)">
<path d="M-10.4 10.4V72.14A10.4 4.68 0 0 0 10.4 72.14V10.4Z" fill="url(#gc)"/>
<circle cx="0" cy="10.4" r="10.4" fill="url(#gs)"/>
</g>
<g transform="translate(1133 267.5) rotate(-3.53)">
<path d="M-10.5 10.5V71.52A10.5 4.73 0 0 0 10.5 71.52V10.5Z" fill="url(#gc)"/>
<circle cx="0" cy="10.5" r="10.5" fill="url(#gs)"/>
</g>
<g transform="translate(1196.3 255.8) rotate(-8.63)">
<path d="M-10.4 10.4V65.31A10.4 4.68 0 0 0 10.4 65.31V10.4Z" fill="url(#gc)"/>
<circle cx="0" cy="10.4" r="10.4" fill="url(#gs)"/>
</g>
<g transform="translate(1150.6 262.8) rotate(-2.63)">
<path d="M-10 10V71.68A10 4.5 0 0 0 10 71.68V10Z" fill="url(#gc)"/>
<circle cx="0" cy="10" r="10" fill="url(#gs)"/>
</g>
<g transform="translate(1176.4 260.4) rotate(-11.08)">
<path d="M-10.6 10.6V68.09A10.6 4.77 0 0 0 10.6 68.09V10.6Z" fill="url(#gc)"/>
<circle cx="0" cy="10.6" r="10.6" fill="url(#gs)"/>
</g>
<g transform="translate(1166 262) rotate(-5.46)">
<path d="M-10 10V68.03A10 4.5 0 0 0 10 68.03V10Z" fill="url(#gc)"/>
<circle cx="0" cy="10" r="10" fill="url(#gs)"/>
</g>
</g>
<g id="chart">
<g stroke="#707070" stroke-width="1" stroke-dasharray="1 4" fill="none" shape-rendering="crispEdges">
<line x1="490.5" y1="422" x2="490.5" y2="1019"/>
<line x1="713.5" y1="422" x2="713.5" y2="1019"/>
<line x1="936.5" y1="422" x2="936.5" y2="1019"/>
<line x1="317" y1="567.5" x2="1046" y2="567.5"/>
<line x1="317" y1="718.5" x2="1046" y2="718.5"/>
<line x1="317" y1="869.5" x2="1046" y2="869.5"/>
</g>
<path d="M379 481C382.55 487.93 392.93 509.15 400.3 522.6C407.67 536.05 417.85 549.63 423.2 561.7C428.55 573.77 428.57 581.05 432.4 595C436.23 608.95 441.6 632.52 446.2 645.4C450.8 658.28 454.12 659.7 460 672.3C465.88 684.9 474 705.13 481.5 721C489 736.87 497.75 754.17 505 767.5C512.25 780.83 517.95 789.35 525 801C532.05 812.65 539 825.5 547.3 837.4C555.6 849.3 566.88 863.23 574.8 872.4C582.72 881.57 588.13 886.15 594.8 892.4C601.47 898.65 607.3 904.48 614.8 909.9C622.3 915.32 632.27 921.17 639.8 924.9C647.33 928.63 652.47 929.82 660 932.3C667.53 934.78 676.17 937.6 685 939.8C693.83 942 693.83 943.05 713 945.5C732.17 947.95 764.67 951.17 800 954.5C835.33 957.83 902.25 963.48 925 965.5C947.75 967.52 934.58 966.42 936.5 966.6" fill="none" stroke="#EB1014" stroke-width="2.5" stroke-linejoin="round"/>
<g stroke="#BE0F14" stroke-width="2.8" fill="none">
<path d="M378.7 462.7V497.9M371.7 462.7H385.7M371.7 497.9H385.7M423.2 543.7V579.7M416.2 543.7H430.2M416.2 579.7H430.2M446.2 627.8V663M439.2 627.8H453.2M439.2 663H453.2M534.9 818.4V854.8M527.9 818.4H541.9M527.9 854.8H541.9M624.3 907.3V943.5M617.3 907.3H631.3M617.3 943.5H631.3M713.2 932.3V968.5M706.2 932.3H720.2M706.2 968.5H720.2M936.4 948.3V984.1M929.4 948.3H943.4M929.4 984.1H943.4"/>
</g>
<g stroke="#BE0F14" stroke-width="4.9" fill="#fff">
<circle cx="378.7" cy="480.3" r="9.35"/>
<circle cx="423.2" cy="561.7" r="9.35"/>
<circle cx="446.2" cy="645.4" r="9.35"/>
<circle cx="534.9" cy="836.6" r="9.35"/>
<circle cx="624.3" cy="925.4" r="9.35"/>
<circle cx="713.2" cy="950.4" r="9.35"/>
<circle cx="936.4" cy="966.2" r="9.35"/>
</g>
<g fill="none" stroke="#137a17" stroke-width="3.5" stroke-linecap="round" stroke-dasharray="0.1 8">
<path d="M381.2 496.2C385.17 497.75 395.42 501.87 405 505.5C414.58 509.13 424.55 512.88 438.7 518C452.85 523.12 475.53 531.3 489.9 536.2C504.27 541.1 512.42 543.65 524.9 547.4C537.38 551.15 550.65 554.73 564.8 558.7C578.95 562.67 593.93 566.65 609.8 571.2C625.67 575.75 641.22 581.22 660 586C678.78 590.78 699.8 594.88 722.5 599.9C745.2 604.92 773.3 611.73 796.2 616.1C819.1 620.47 840.13 622.97 859.9 626.1C879.67 629.23 904.62 633.28 914.8 634.9C924.98 636.52 919.97 635.65 921 635.8"/>
<path d="M377.5 600C381.03 602.68 391.22 609.67 398.7 616.1C406.18 622.53 414.7 632.15 422.4 638.6C430.1 645.05 436.98 648.77 444.9 654.8C452.82 660.83 462.4 668.55 469.9 674.8C477.4 681.05 481.57 686.05 489.9 692.3C498.23 698.55 511.17 706.43 519.9 712.3C528.63 718.17 530.65 719.97 542.3 727.5C553.95 735.03 574.38 747.92 589.8 757.5C605.22 767.08 621.6 777.33 634.8 785C648 792.67 657.3 797.47 669 803.5C680.7 809.53 694 815.75 705 821.2C716 826.65 717.93 828.17 735 836.2C752.07 844.23 786.58 860.67 807.4 869.4C828.22 878.13 841.17 882.35 859.9 888.6C878.63 894.85 909.45 903.75 919.8 906.9C930.15 910.05 921.63 907.4 922 907.5"/>
</g>
<path d="M364.1 535.9L393.3 535.9L381 510.5L376.4 510.5ZM371.15 531.6L378.7 518.4L386.25 531.6ZM407.9 520.5L437.1 520.5L424.8 495.5L420.2 495.5ZM414.95 516.2L422.5 503.4L430.05 516.2ZM430.4 493.3L459.6 493.3L447.3 468.8L442.7 468.8ZM437.45 489L445 476.7L452.55 489ZM519.2 569L548.4 569L536.1 544.3L531.5 544.3ZM526.25 564.7L533.8 552.2L541.35 564.7ZM607.9 572.9L637.1 572.9L624.8 548L620.2 548ZM614.95 568.6L622.5 555.9L630.05 568.6ZM696.5 577L725.7 577L713.4 552.3L708.8 552.3ZM703.55 572.7L711.1 560.2L718.65 572.7ZM918.3 641.2L947.5 641.2L935.2 615.6L930.6 615.6ZM925.35 636.9L932.9 623.5L940.45 636.9ZM363.8 589.7L393 589.7L380.7 614.5L376.1 614.5ZM370.85 594L378.4 606.6L385.95 594ZM408.1 601.3L437.3 601.3L425 626.3L420.4 626.3ZM415.15 605.6L422.7 618.4L430.25 605.6ZM430.4 657.3L459.6 657.3L447.3 682.5L442.7 682.5ZM437.45 661.6L445 674.6L452.55 661.6ZM519 717.7L548.2 717.7L535.9 742.7L531.3 742.7ZM526.05 722L533.6 734.8L541.15 722ZM607.7 789.8L636.9 789.8L624.6 814.6L620 814.6ZM614.75 794.1L622.3 806.7L629.85 794.1ZM696.5 826.6L725.7 826.6L713.4 851.9L708.8 851.9ZM703.55 830.9L711.1 844L718.65 830.9ZM918.3 889.6L947.5 889.6L935.2 916.2L930.6 916.2ZM925.35 893.9L932.9 908.3L940.45 893.9Z" fill="#0F8A14" fill-rule="evenodd"/>
<polyline points="378.3,944.4 423.2,918.4 445.8,877.2 534.9,804.4 624.3,726.3 713.2,684 936.5,503.4" fill="none" stroke="#0606E6" stroke-width="2.6" stroke-linejoin="round"/>
<g stroke="#0606E6" stroke-width="3" fill="none">
<path d="M378.3 906.5V982.3M371.3 906.5H385.3M371.3 982.3H385.3M423.2 880.5V956.3M416.2 880.5H430.2M416.2 956.3H430.2M445.8 839.6V914.8M438.8 839.6H452.8M438.8 914.8H452.8M534.9 766.2V842.6M527.9 766.2H541.9M527.9 842.6H541.9M624.3 688.2V764.4M617.3 688.2H631.3M617.3 764.4H631.3M713.2 646V722M706.2 646H720.2M706.2 722H720.2M936.5 465.5V541.3M929.5 465.5H943.5M929.5 541.3H943.5"/>
</g>
<g stroke="#0606E6" stroke-width="5" fill="#fff">
<circle cx="378.3" cy="944.4" r="9.4"/>
<circle cx="423.2" cy="918.4" r="9.4"/>
<circle cx="445.8" cy="877.2" r="9.4"/>
<circle cx="534.9" cy="804.4" r="9.4"/>
<circle cx="624.3" cy="726.3" r="9.4"/>
<circle cx="713.2" cy="684" r="9.4"/>
<circle cx="936.5" cy="503.4" r="9.4"/>
</g>
<g fill="none" stroke="#0606E6" stroke-width="2.1" stroke-linecap="round" stroke-linejoin="round">
<path d="M832.4 561.2C831.67 560.17 829.67 556.37 828 555C826.33 553.63 824.4 552.5 822.4 553C820.4 553.5 818.07 553.93 816 558C813.93 562.07 811.27 569.57 810 577.4C808.73 585.23 808.23 595.4 808.4 605C808.57 614.6 809.73 627.5 811 635C812.27 642.5 814.33 646.17 816 650C817.67 653.83 819.25 656 821 658C822.75 660 824.5 662 826.5 662C828.5 662 830.58 660.33 833 658C835.42 655.67 839.67 649.67 841 648"/>
<path d="M841 648C841.83 652.05 844.25 664.97 846 672.3C847.75 679.63 849.6 685.72 851.5 692C853.4 698.28 855.15 704.17 857.4 710C859.65 715.83 862.23 721.5 865 727C867.77 732.5 871 738.33 874 743C877 747.67 880.33 752 883 755C885.67 758 888.83 760 890 761"/>
</g>
<path d="M903 763.2L886 758.8L887 768.6Z" fill="#0606E6"/>
<g fill="none" stroke="#F05050" stroke-width="2.2" stroke-linecap="round" stroke-linejoin="round">
<path d="M764 792C765.33 793.67 768.5 797.33 772 802C775.5 806.67 781.5 814.33 785 820C788.5 825.67 790.5 830.6 793 836C795.5 841.4 797.83 846.73 800 852.4C802.17 858.07 804.25 864.23 806 870C807.75 875.77 809.17 881.5 810.5 887C811.83 892.5 813.08 898.77 814 903C814.92 907.23 815.67 910.83 816 912.4"/>
<path d="M815.5 912C816.25 911 818.42 907.5 820 906C821.58 904.5 823.33 902.67 825 903C826.67 903.33 828.33 905 830 908C831.67 911 833.67 914 835 921C836.33 928 837.75 940.17 838 950C838.25 959.83 837.67 972 836.5 980C835.33 988 832.83 993.92 831 998C829.17 1002.08 827.25 1003.33 825.5 1004.5C823.75 1005.67 822.58 1005.92 820.5 1005C818.42 1004.08 815.18 1001.2 813 999C810.82 996.8 808.33 993 807.4 991.8"/>
</g>
<path d="M750.4 792L767 786L768.2 795.4Z" fill="#F05050"/>
<g stroke="#000" stroke-width="2" fill="none">
<line x1="312" y1="417" x2="1048" y2="417"/>
<line x1="312" y1="1021" x2="1048" y2="1021"/>
<path d="M490.5 417v12.2M490.5 1021v11.5M713.25 417v12.2M713.25 1021v11.5M936 417v12.2M936 1021v11.5M379.1 417v7.2M379.1 1021v6M601.9 417v7.2M601.9 1021v6M824.6 417v7.2M824.6 1021v6M1047.4 417v7.2M1047.4 1021v6"/>
</g>
<g stroke="#BE1418" stroke-width="2.2" fill="none">
<path d="M312 416V1022M312 417h-13M312 568h-13M312 719h-13M312 870h-13M312 1021h-13M312 492.5h-7M312 643.5h-7M312 794.5h-7M312 945.5h-7"/>
</g>
<g stroke="#0000BE" stroke-width="2.2" fill="none">
<path d="M1048 416V1022M1048 417h13M1048 568h13M1048 719h13M1048 870h13M1048 1021h13M1048 492.5h6.5M1048 643.5h6.5M1048 794.5h6.5M1048 945.5h6.5"/>
</g>
<g stroke="#148214" stroke-width="2" fill="none">
<path d="M1198 416V1022M1198 417h-13M1198 568h-13M1198 719h-13M1198 870h-13M1198 1021h-13M1198 492.5h-6.5M1198 643.5h-6.5M1198 794.5h-6.5M1198 945.5h-6.5"/>
</g>
<g id="ticklabels">
<text transform="translate(291.2 425.86) scale(1.05 1)" text-anchor="end" fill="#DC1414" font-size="24.2">2.0x10<tspan dy="-13.4" font-size="15.2">5</tspan></text>
<text transform="translate(291.2 576.86) scale(1.05 1)" text-anchor="end" fill="#DC1414" font-size="24.2">1.5x10<tspan dy="-13.4" font-size="15.2">5</tspan></text>
<text transform="translate(291.2 727.86) scale(1.05 1)" text-anchor="end" fill="#DC1414" font-size="24.2">1.0x10<tspan dy="-13.4" font-size="15.2">5</tspan></text>
<text transform="translate(291.2 878.86) scale(1.05 1)" text-anchor="end" fill="#DC1414" font-size="24.2">5.0x10<tspan dy="-13.4" font-size="15.2">4</tspan></text>
<text transform="translate(291 1027.96) scale(1.04 1)" text-anchor="end" fill="#DC1414" font-size="24.2">0.0</text>
<text x="1071.3" y="431.86" fill="#1010D2" font-size="24.2">2000</text>
<text x="1071.3" y="582.86" fill="#1010D2" font-size="24.2">1800</text>
<text x="1071.3" y="733.86" fill="#1010D2" font-size="24.2">1600</text>
<text x="1071.3" y="884.86" fill="#1010D2" font-size="24.2">1400</text>
<text x="1071.3" y="1035.86" fill="#1010D2" font-size="24.2">1200</text>
<text x="1210" y="423.96" fill="#148214" font-size="24.2">2.4</text>
<text x="1210" y="574.96" fill="#148214" font-size="24.2">2.0</text>
<text x="1210" y="725.96" fill="#148214" font-size="24.2">1.6</text>
<text x="1210" y="876.96" fill="#148214" font-size="24.2">1.2</text>
<text x="1210" y="1027.96" fill="#148214" font-size="24.2">0.8</text>
<text transform="translate(489.9 1062.6) scale(1.04 1)" text-anchor="middle" fill="#000" font-size="24.2">5.0x10<tspan dy="-12.8" font-size="15.2">-3</tspan></text>
<text transform="translate(712.65 1062.6) scale(1.04 1)" text-anchor="middle" fill="#000" font-size="24.2">1.0x10<tspan dy="-12.8" font-size="15.2">-2</tspan></text>
<text transform="translate(935.4 1062.6) scale(1.04 1)" text-anchor="middle" fill="#000" font-size="24.2">1.5x10<tspan dy="-12.8" font-size="15.2">-2</tspan></text>
</g>
<g id="titles">
<text x="680.5" y="1109.6" text-anchor="middle" fill="#000" font-size="30.9" textLength="455" lengthAdjust="spacingAndGlyphs">Argon sputtering pressure (mbar)</text>
<text transform="translate(187.4 976.2) rotate(-90)" letter-spacing="0.05" fill="#DC1414" font-size="30.9">DC electrical conductivity <tspan font-style="italic" font-size="27.5">σ</tspan><tspan dy="10.8" font-size="18.8" font-style="italic">300K</tspan><tspan dy="-10.8"> (S m</tspan><tspan dy="-13" font-size="18.6">-1</tspan><tspan dy="13">)</tspan></text>
<text transform="translate(1159.6 900.5) rotate(-90)" fill="#1010D2" font-size="30.9">Elastic velocity <tspan font-style="italic" font-family="'Liberation Serif', serif" font-size="32">ν</tspan><tspan dy="10.8" font-size="18.6" font-style="italic">300K</tspan><tspan dy="-10.8"> (m s</tspan><tspan dy="-13" font-size="18.6">-1</tspan><tspan dy="13">)</tspan></text>
<text transform="translate(1279.2 867) rotate(-90)" fill="#148214" font-size="30.9" textLength="299.5" lengthAdjust="spacingAndGlyphs">Anisotropic coefficient</text>
<text x="970.4" y="651.8" fill="#148214" font-size="40" font-style="italic">A<tspan dy="14.6" dx="2" font-size="23.5">σ</tspan></text>
<text x="962.8" y="908.2" fill="#148214" font-size="40" font-style="italic">A<tspan dy="13.6" dx="2.6" font-size="26" font-family="'Liberation Serif', serif">ν</tspan></text>
</g>
</g>
</svg>
</body>
</html>
